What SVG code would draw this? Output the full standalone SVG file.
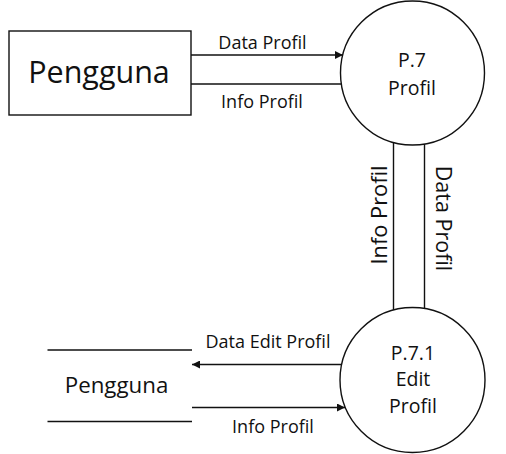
<svg xmlns="http://www.w3.org/2000/svg" width="506" height="454" viewBox="0 0 506 454">
<style>
.s{fill:none;stroke:#111;stroke-width:1.4}
.t{font-family:"Open Sans",sans-serif;fill:#111;text-anchor:middle}
.lbl{font-size:18px}
.pt{font-size:19.5px}
</style>
<defs>
<marker id="ah" viewBox="0 0 10 10" refX="10" refY="5" markerWidth="10" markerHeight="8" markerUnits="userSpaceOnUse" orient="auto">
<path d="M0,0 L10,5 L0,10 Z" fill="#111"/>
</marker>
</defs>
<rect width="506" height="454" fill="#fff"/>
<g id="pengguna1">
<rect class="s" x="9" y="31" width="182" height="84"/>
<text class="t" x="99" y="83" font-size="30.5">Pengguna</text>
</g>
<g id="p7">
<circle class="s" cx="412.5" cy="73" r="72"/>
<text class="t pt" x="412" y="67">P.7</text>
<text class="t pt" x="412" y="95">Profil</text>
</g>
<g id="p71">
<circle class="s" cx="412.5" cy="380" r="72.5"/>
<text class="t pt" x="413" y="360">P.7.1</text>
<text class="t pt" x="413" y="386">Edit</text>
<text class="t pt" x="413" y="413">Profil</text>
</g>
<g id="pengguna2">
<line class="s" x1="47.5" y1="350" x2="192" y2="350"/>
<line class="s" x1="47.5" y1="421.5" x2="192" y2="421.5"/>
<text class="t" x="116.5" y="393" font-size="22.3">Pengguna</text>
</g>
<g id="connectors">
<line class="s" x1="191" y1="55" x2="343" y2="55" marker-end="url(#ah)"/>
<text class="t lbl" x="262.5" y="49">Data Profil</text>
<line class="s" x1="191" y1="84" x2="341" y2="84"/>
<text class="t lbl" x="262" y="108">Info Profil</text>
<line class="s" x1="393.5" y1="142" x2="393.5" y2="310"/>
<line class="s" x1="424.5" y1="144" x2="424.5" y2="308.5"/>
<text class="t" font-size="21.8" transform="translate(387,215) rotate(-90)">Info Profil</text>
<text class="t" font-size="21.5" transform="translate(436,218.5) rotate(90)">Data Profil</text>
<line class="s" x1="341" y1="364.5" x2="192" y2="364.5" marker-end="url(#ah)"/>
<text class="t lbl" x="268" y="348">Data Edit Profil</text>
<line class="s" x1="192" y1="407.5" x2="345" y2="407.5" marker-end="url(#ah)"/>
<text class="t lbl" x="273" y="433">Info Profil</text>
</g>
</svg>
